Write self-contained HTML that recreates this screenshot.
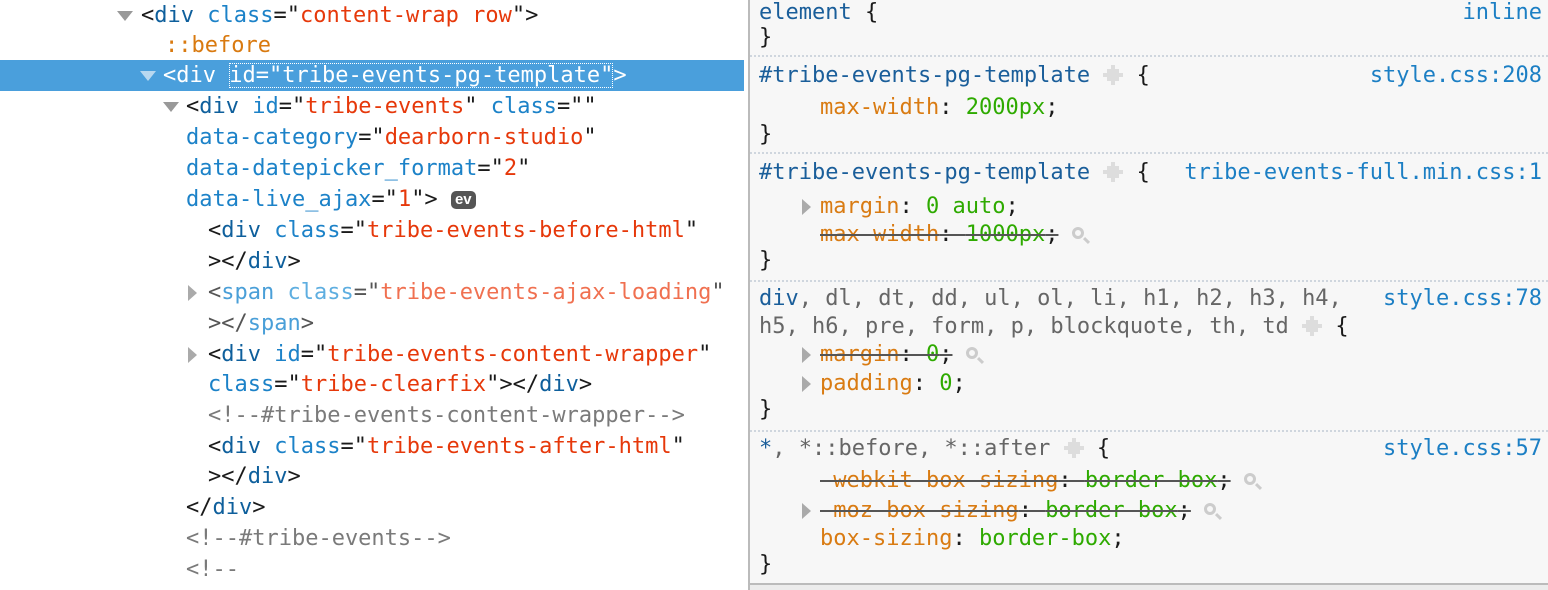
<!DOCTYPE html>
<html><head><meta charset="utf-8"><style>
html,body{margin:0;padding:0;width:1548px;height:590px;overflow:hidden;background:#fff;}
body{font-family:"DejaVu Sans Mono","Liberation Mono",monospace;font-size:22px;position:relative;}
.l{position:absolute;white-space:pre;line-height:30px;height:30px;color:#1a1a1a;margin-top:1px;}
.t{color:#0e5f9c}.a{color:#1c82c8}.v{color:#e6380a}.c{color:#7a7a7a}
.sp .t{color:#4a9fd8}.sp .a{color:#5eaee0}.sp .v{color:#f07050}.sp{color:#555}
.arr{position:absolute;width:0;height:0;}
.down{border-left:8px solid transparent;border-right:8px solid transparent;border-top:10px solid #999;}
.right{border-top:8px solid transparent;border-bottom:8px solid transparent;border-left:9px solid #aaa;}
#right{position:absolute;left:748px;top:0;width:800px;height:590px;background:#f7f7f7;border-left:2px solid #bbb;box-sizing:border-box;}
.s{color:#1a5e9a}.sg{color:#666}.p{color:#d97b12}.g{color:#2eaa00}.f{color:#1c7fc4}
.dot{position:absolute;left:750px;width:798px;border-top:2px dotted #cfd6de;}
.st{text-decoration:line-through;text-decoration-color:#555;}
.ic{display:inline-block;width:20px;height:20px;vertical-align:-3px;
background:linear-gradient(#ddd,#ddd) 4px 4px/12px 12px no-repeat,linear-gradient(#ddd,#ddd) 8px 0/4px 20px no-repeat,linear-gradient(#ddd,#ddd) 0 8px/20px 4px no-repeat;}
.mg{display:inline-block;width:12px;height:12px;border:3px solid #ccc;border-radius:50%;box-sizing:border-box;position:relative;vertical-align:2px;}
.mg::after{content:"";position:absolute;left:8px;top:9px;width:7px;height:3px;background:#ccc;transform:rotate(45deg);}
</style></head><body>
<div style="position:absolute;left:0;top:60px;width:744px;height:31px;background:#4a9fdc"></div>
<div class="arr down" style="left:117px;top:11px"></div>
<div class="l" style="left:141px;top:0px">&lt;<span class="t">div</span> <span class="a">class</span>="<span class="v">content-wrap row</span>"&gt;</div>
<div class="l" style="left:165px;top:30px;color:#d97a10">::before</div>
<div class="arr down" style="left:140px;top:71px;border-top-color:#b8d8f0"></div>
<div class="l" style="left:163px;top:60px;color:#fff">&lt;div <span style="outline:1px dotted #fff;outline-offset:-1px">id="tribe-events-pg-template"</span>&gt;</div>
<div class="arr down" style="left:163px;top:102px"></div>
<div class="l" style="left:186px;top:91px">&lt;<span class="t">div</span> <span class="a">id</span>="<span class="v">tribe-events</span>" <span class="a">class</span>=""</div>
<div class="l" style="left:186px;top:122px"><span class="a">data-category</span>="<span class="v">dearborn-studio</span>"</div>
<div class="l" style="left:186px;top:153px"><span class="a">data-datepicker_format</span>="<span class="v">2</span>"</div>
<div class="l" style="left:186px;top:184px"><span class="a">data-live_ajax</span>="<span class="v">1</span>"&gt; <span style="display:inline-block;background:#555;color:#fff;font-family:'Liberation Sans',sans-serif;font-weight:bold;font-size:15px;line-height:18px;padding:0 4px;border-radius:5px;vertical-align:2px">ev</span></div>
<div class="l" style="left:208px;top:215px">&lt;<span class="t">div</span> <span class="a">class</span>="<span class="v">tribe-events-before-html</span>"</div>
<div class="l" style="left:208px;top:246px">&gt;&lt;/<span class="t">div</span>&gt;</div>
<div class="arr right" style="left:188px;top:285px"></div>
<div class="l sp" style="left:208px;top:277px">&lt;<span class="t">span</span> <span class="a">class</span>="<span class="v">tribe-events-ajax-loading</span>"</div>
<div class="l sp" style="left:208px;top:308px">&gt;&lt;/<span class="t">span</span>&gt;</div>
<div class="arr right" style="left:188px;top:347px"></div>
<div class="l" style="left:208px;top:339px">&lt;<span class="t">div</span> <span class="a">id</span>="<span class="v">tribe-events-content-wrapper</span>"</div>
<div class="l" style="left:208px;top:369px"><span class="a">class</span>="<span class="v">tribe-clearfix</span>"&gt;&lt;/<span class="t">div</span>&gt;</div>
<div class="l c" style="left:208px;top:400px">&lt;!--#tribe-events-content-wrapper--&gt;</div>
<div class="l" style="left:208px;top:431px">&lt;<span class="t">div</span> <span class="a">class</span>="<span class="v">tribe-events-after-html</span>"</div>
<div class="l" style="left:208px;top:461px">&gt;&lt;/<span class="t">div</span>&gt;</div>
<div class="l" style="left:186px;top:492px">&lt;/<span class="t">div</span>&gt;</div>
<div class="l c" style="left:186px;top:523px">&lt;!--#tribe-events--&gt;</div>
<div class="l c" style="left:186px;top:554px">&lt;!--</div>

<div id="right"></div>
<div style="position:absolute;left:750px;top:583px;width:798px;height:7px;background:#ececec;border-top:2px solid #bbb"></div>
<div class="dot" style="top:55px"></div>
<div class="dot" style="top:152px"></div>
<div class="dot" style="top:280px"></div>
<div class="dot" style="top:430px"></div>

<div class="l s" style="left:759px;top:-3px">element <span style="color:#1a1a1a">{</span></div>
<div class="l f" style="right:6px;top:-3px">inline</div>
<div class="l" style="left:759px;top:22px">}</div>

<div class="l s" style="left:759px;top:60px">#tribe-events-pg-template <span class="ic"></span> <span style="color:#1a1a1a">{</span></div>
<div class="l f" style="right:6px;top:60px">style.css:208</div>
<div class="l" style="left:820px;top:92px"><span class="p">max-width</span>: <span class="g">2000px</span>;</div>
<div class="l" style="left:759px;top:119px">}</div>

<div class="l s" style="left:759px;top:157px">#tribe-events-pg-template <span class="ic"></span> <span style="color:#1a1a1a">{</span></div>
<div class="l f" style="right:6px;top:157px">tribe-events-full.min.css:1</div>
<div class="arr right" style="left:802px;top:199px"></div>
<div class="l" style="left:820px;top:191px"><span class="p">margin</span>: <span class="g">0 auto</span>;</div>
<div class="l" style="left:820px;top:219px"><span class="st"><span class="p">max-width</span>: <span class="g">1000px</span>;</span> <span class="mg"></span></div>
<div class="l" style="left:759px;top:245px">}</div>

<div class="l sg" style="left:759px;top:283px"><span class="s">div</span>, dl, dt, dd, ul, ol, li, h1, h2, h3, h4,</div>
<div class="l f" style="right:6px;top:283px">style.css:78</div>
<div class="l sg" style="left:759px;top:311px">h5, h6, pre, form, p, blockquote, th, td <span class="ic"></span> <span style="color:#1a1a1a">{</span></div>
<div class="arr right" style="left:802px;top:347px"></div>
<div class="l" style="left:820px;top:339px"><span class="st"><span class="p">margin</span>: <span class="g">0</span>;</span> <span class="mg"></span></div>
<div class="arr right" style="left:802px;top:376px"></div>
<div class="l" style="left:820px;top:368px"><span class="p">padding</span>: <span class="g">0</span>;</div>
<div class="l" style="left:759px;top:394px">}</div>

<div class="l sg" style="left:759px;top:433px"><span class="s">*</span>, *::before, *::after <span class="ic"></span> <span style="color:#1a1a1a">{</span></div>
<div class="l f" style="right:6px;top:433px">style.css:57</div>
<div class="l" style="left:820px;top:465px"><span class="st"><span class="p">-webkit-box-sizing</span>: <span class="g">border-box</span>;</span> <span class="mg"></span></div>
<div class="arr right" style="left:802px;top:503px"></div>
<div class="l" style="left:820px;top:495px"><span class="st"><span class="p">-moz-box-sizing</span>: <span class="g">border-box</span>;</span> <span class="mg"></span></div>
<div class="l" style="left:820px;top:523px"><span class="p">box-sizing</span>: <span class="g">border-box</span>;</div>
<div class="l" style="left:759px;top:549px">}</div>
</body></html>
